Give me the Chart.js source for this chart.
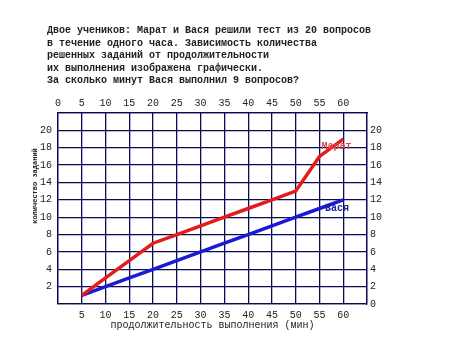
<!DOCTYPE html>
<html>
<head>
<meta charset="utf-8">
<script src="https://cdn.jsdelivr.net/npm/chart.js@4"></script>
<style>
  body { margin: 0; background: #fff; }
  #wrap { position: relative; width: 465px; height: 352px; }
  #chart { position: absolute; left: 0; top: 0; }
  #task {
    position: absolute; left: 47px; top: 25px;
    font: bold 10px "Liberation Mono", monospace;
    line-height: 12.6px; color: #222; white-space: pre;
  }
</style>
</head>
<body>
<div id="wrap">
  <canvas id="chart" width="465" height="352"></canvas>
  <div id="task">Двое учеников: Марат и Вася решили тест из 20 вопросов
в течение одного часа. Зависимость количества
решенных заданий от продолжительности
их выполнения изображена графически.
За сколько минут Вася выполнил 9 вопросов?</div>
</div>
<script>
const minutes = [5, 10, 15, 20, 25, 30, 35, 40, 45, 50, 55, 60];
const marat = [1, 3, 5, 7, 8, 9, 10, 11, 12, 13, 17, 19];
const vasya = [1, 2, 3, 4, 5, 6, 7, 8, 9, 10, 11, 12];
const seriesNames = ['Марат', 'Вася'];
const xTitle = 'продолжительность выполнения (мин)';
const yTitle = 'количество заданий';

const gridColor = '#0a0a55';
const tickFont = { family: 'Liberation Mono', size: 10 };

function toPoints(ys) {
    return minutes.map((m, i) => ({ x: m, y: ys[i] }));
}

// подписи линий и заголовок оси Y
const labelsPlugin = {
    id: 'labels',
    afterDraw(chart) {
        const ctx = chart.ctx;
        const sx = chart.scales.x;
        const sy = chart.scales.y;
        ctx.save();
        ctx.font = 'bold 10px "Liberation Mono"';
        ctx.textAlign = 'center';
        ctx.textBaseline = 'middle';
        ctx.fillStyle = '#e04545';
        ctx.fillText(seriesNames[0], sx.getPixelForValue(58.6), sy.getPixelForValue(18.1));
        ctx.fillStyle = '#2020a0';
        ctx.fillText(seriesNames[1], sx.getPixelForValue(58.7), sy.getPixelForValue(11));
        ctx.translate(35, 186);
        ctx.rotate(-Math.PI / 2);
        ctx.font = 'bold 7px "Liberation Mono"';
        ctx.fillStyle = '#222';
        ctx.fillText(yTitle, 0, 0);
        ctx.restore();
    }
};

new Chart(document.getElementById('chart'), {
    type: 'line',
    data: {
        datasets: [{
            label: seriesNames[0],
            data: toPoints(marat),
            borderColor: '#e41c1c',
            borderWidth: 3.5,
            pointRadius: 0,
            tension: 0
        }, {
            label: seriesNames[1],
            data: toPoints(vasya),
            borderColor: '#1a1ad6',
            borderWidth: 3.5,
            pointRadius: 0,
            tension: 0
        }]
    },
    options: {
        responsive: false,
        animation: false,
        layout: { padding: 0 },
        plugins: { legend: { display: false }, tooltip: { enabled: false } },
        scales: {
            x: {
                type: 'linear', position: 'bottom', min: 0, max: 65,
                afterFit: s => { s.height = 48; },
                grid: { color: gridColor, lineWidth: 1.3, drawTicks: false },
                border: { color: gridColor, width: 1.3 },
                ticks: {
                    stepSize: 5, padding: 5, color: '#222', font: tickFont,
                    maxRotation: 0, autoSkip: false,
                    callback: v => (v === 0 || v === 65) ? '' : v
                },
                title: { display: true, text: xTitle, color: '#222', font: tickFont, padding: { top: 0, bottom: 21 } }
            },
            x2: {
                type: 'linear', position: 'top', min: 0, max: 65,
                afterFit: s => { s.height = 113; },
                grid: { display: false, drawTicks: false },
                border: { color: gridColor, width: 1.3 },
                ticks: {
                    stepSize: 5, padding: 4, color: '#222', font: tickFont,
                    maxRotation: 0, autoSkip: false,
                    callback: v => v === 65 ? '' : v
                }
            },
            y: {
                type: 'linear', position: 'left', min: 0, max: 22,
                afterFit: s => { s.width = 58; },
                grid: { color: gridColor, lineWidth: 1.3, drawTicks: false },
                border: { color: gridColor, width: 1.3 },
                ticks: {
                    stepSize: 2, padding: 6, color: '#222', font: tickFont,
                    autoSkip: false,
                    callback: v => (v === 0 || v === 22) ? '' : v
                }
            },
            y2: {
                type: 'linear', position: 'right', min: 0, max: 22,
                afterFit: s => { s.width = 98; },
                grid: { display: false, drawTicks: false },
                border: { color: gridColor, width: 1.3 },
                ticks: {
                    stepSize: 2, padding: 3, color: '#222', font: tickFont,
                    autoSkip: false,
                    callback: v => v === 22 ? '' : v
                }
            }
        }
    },
    plugins: [labelsPlugin]
});
</script>
</body>
</html>
